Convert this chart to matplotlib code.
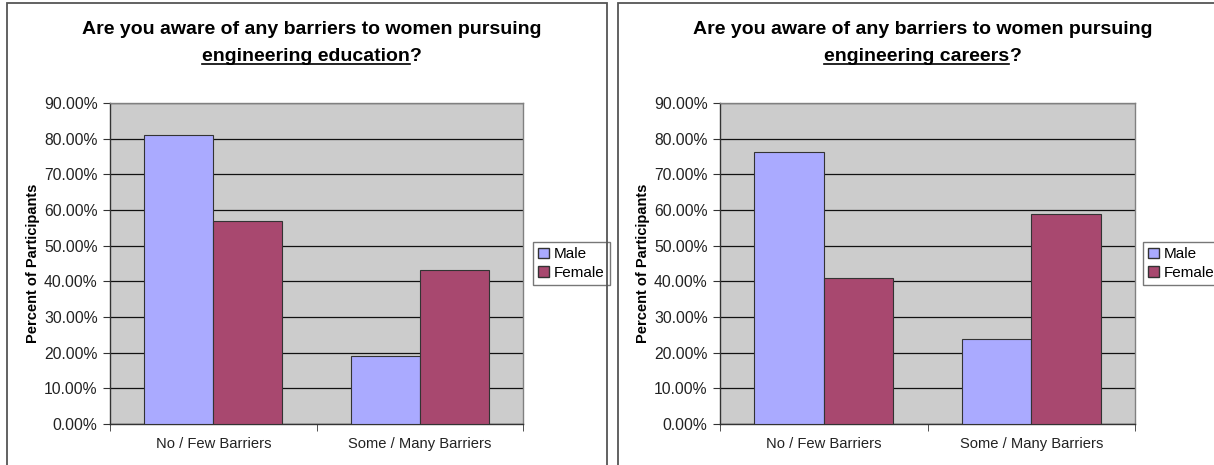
import numpy as np
import matplotlib
matplotlib.use("Agg")
import matplotlib.pyplot as plt
from matplotlib.lines import Line2D
from matplotlib.patches import Rectangle, Patch

plt.rcParams['font.family'] = ['Liberation Sans', 'DejaVu Sans']

# data
categories = ["No / Few Barriers", "Some / Many Barriers"]
series = ["Male", "Female"]
education_male = [80.9, 19.1]
education_female = [56.9, 43.1]
careers_male = [76.3, 23.7]
careers_female = [41.0, 59.0]
titles = [("Are you aware of any barriers to women pursuing", "engineering education"),
          ("Are you aware of any barriers to women pursuing", "engineering careers")]
yticks = np.arange(0, 91, 10)

male_color = '#AAAAFF'
female_color = '#A8486F'

W, H = 1214, 465
fig = plt.figure(figsize=(W / 100, H / 100), dpi=100)

def px(x, y):
	# pixel (from top-left) to figure fraction
	return x / W, 1 - y / H

# panel frames
for x0, x1 in [(7, 607), (618, 1225)]:
	fig.patches.append(Rectangle(px(x0, 480), (x1 - x0) / W, (480 - 3) / H,
		transform=fig.transFigure, fill=False, edgecolor='#555555', linewidth=1.3))

def draw_panel(left, right, male, female, title, legend_x):
	l, b = px(left, 424)
	ax = fig.add_axes([l, b, (right - left) / W, 321 / H])
	ax.set_facecolor('#CCCCCC')
	x = np.arange(len(categories))
	w = 0.334
	ax.bar(x - w / 2, male, w, color=male_color, edgecolor='#333333', linewidth=0.8, zorder=3)
	ax.bar(x + w / 2, female, w, color=female_color, edgecolor='#333333', linewidth=0.8, zorder=3)
	ax.set_xlim(-0.5, 1.5)
	ax.set_ylim(0, 90)
	ax.set_yticks(yticks)
	ax.set_yticklabels([f"{v:.2f}%" for v in yticks], fontsize=11.3, color='#222222')
	ax.yaxis.grid(True, color='#111111', linewidth=0.9, zorder=1)
	ax.set_axisbelow(True)
	ax.set_xticks(x)
	ax.set_xticklabels(categories, fontsize=10.6, color='#222222')
	ax.tick_params(axis='x', length=0, pad=9)
	ax.set_xticks([-0.5, 0.5, 1.5], minor=True)
	ax.tick_params(axis='x', which='minor', length=5, color='#333333')
	ax.tick_params(axis='y', length=5, color='#333333', pad=4)
	for s in ax.spines.values():
		s.set_color('#808080')
		s.set_linewidth(1)
	ax.spines['left'].set_color('#333333')
	ax.spines['bottom'].set_color('#333333')
	ax.set_ylabel("Percent of Participants", fontsize=10.5, fontweight='bold', labelpad=3)

	leg = ax.legend([Patch(facecolor=male_color, edgecolor='#333333'),
		Patch(facecolor=female_color, edgecolor='#333333')], series,
		loc='center left', bbox_to_anchor=((legend_x - left) / (right - left), 0.5),
		fontsize=11, frameon=True, fancybox=False, handlelength=0.7, handleheight=0.7,
		handletextpad=0.3, borderpad=0.35, labelspacing=0.3, borderaxespad=0)
	leg.get_frame().set_edgecolor('#555555')
	leg.get_frame().set_linewidth(1)

	# title
	cx = (left + right) / 2 - 5
	fig.text(*px(cx, 30), title[0], ha='center', va='center', fontsize=14, fontweight='bold')
	renderer = fig.canvas.get_renderer()
	t1 = fig.text(0, 0, title[1], ha='left', va='baseline', fontsize=14, fontweight='bold')
	t2 = fig.text(0, 0, "?", ha='left', va='baseline', fontsize=14, fontweight='bold')
	w1 = t1.get_window_extent(renderer).width
	w2 = t2.get_window_extent(renderer).width
	start = cx - (w1 + w2) / 2
	base_y = 61
	t1.set_position(px(start, base_y))
	t2.set_position(px(start + w1, base_y))
	fig.add_artist(Line2D([start / W, (start + w1) / W], [1 - (base_y + 3) / H] * 2,
		transform=fig.transFigure, color='black', linewidth=1.2))

draw_panel(110, 523, education_male, education_female, titles[0], 533)
draw_panel(720, 1135, careers_male, careers_female, titles[1], 1143)

fig.savefig("out.png", dpi=100)
